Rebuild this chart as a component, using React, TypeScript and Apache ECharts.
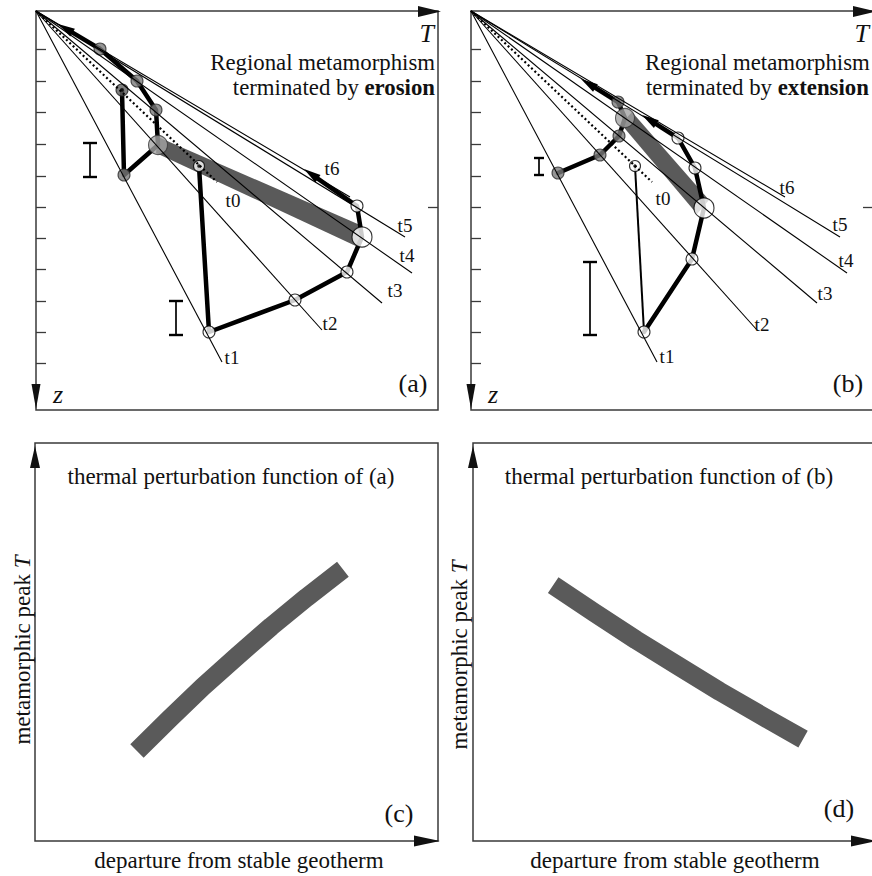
import React, { useEffect, useRef } from 'react';
import * as echarts from 'echarts';

// ---------------- DATA ----------------
// Panels (a) and (b): T to the right, depth z downwards, origin = surface (T0, z0)
const geothermLabels = ['t1', 't2', 't3', 't4', 't5', 't6'];
const geothermEndT = [186, 286, 346, 376, 369, 314];
const geothermEndZ = [351, 319, 292, 262, 226, 186];
const stableGeothermEnd = [181, 171]; // dotted t0 geotherm
const depthTicks = [38, 70, 101, 133, 165, 196, 227, 258, 290, 321, 352];
const rightTicks = [196];

// (a) terminated by erosion
const aShallowT = [86, 88, 122, 120, 101, 64];
const aShallowZ = [79, 164, 134, 99, 70, 38];
const aShallowArrow = [22, 13];
const aShallowPeak = 2;
const aDeepT = [163, 173, 259, 311, 326, 321];
const aDeepZ = [155, 321, 289, 261, 226, 195];
const aDeepArrow = [268, 158];
const aDeepPeak = 4;
const aBandT = [122, 324, 322, 120];
const aBandZ = [126, 214, 236, 142];
const aErrorT = [54, 140];
const aErrorTop = [132, 290];
const aErrorBottom = [166, 324];

// (b) terminated by extension
const bShallowT = [87, 129, 148, 154, 147];
const bShallowZ = [162, 144, 125, 107, 91];
const bShallowArrow = [110, 68];
const bShallowPeak = 3;
const bDeepT = [164, 173, 221, 233, 224, 207];
const bDeepZ = [155, 321, 248, 197, 157, 127];
const bDeepArrow = [171, 104];
const bDeepPeak = 3;
const bBandT = [150, 161, 238, 226];
const bBandZ = [113, 101, 189, 203];
const bErrorT = [68, 119];
const bErrorTop = [147, 251];
const bErrorBottom = [164, 324];

// (c), (d): thermal perturbation functions (departure 0-100, peak T 0-100)
const cDeparture = [25.3, 33.4, 41.6, 50.1, 58.6, 67.4, 76.4];
const cPeakT = [22.6, 30.7, 38.7, 46.4, 53.9, 61.2, 68.3];
const dDeparture = [19.9, 30.2, 40.5, 50.9, 61.2, 71.6, 81.9];
const dPeakT = [64.3, 57.3, 50.5, 44.0, 37.6, 31.5, 25.6];

// ---------------- STYLE / LAYOUT ----------------
const FONT = 'Liberation Serif';
const BAND = '#5a5a5a';
const FRAME = '#3a3a3a';

const zip = (xs: number[], ys: number[]) => xs.map((x, i) => [x, ys[i]]);

function textEl(text: string, x: number, y: number, size: number, o: any = {}) {
  const align = o.align || 'center';
  return {
    type: 'text',
    x,
    y,
    rotation: o.rotation || 0,
    z: 100,
    silent: true,
    style: {
      text,
      x: 0,
      y: 0,
      fill: '#111',
      fontSize: size,
      fontFamily: FONT,
      fontStyle: o.italic ? 'italic' : 'normal',
      fontWeight: 'normal',
      align,
      textAlign: align,
      verticalAlign: 'middle',
      textVerticalAlign: 'middle',
      rich: o.rich,
    },
  };
}

const boldRich = (size: number) => ({
  b: { fontSize: size, fontFamily: FONT, fontWeight: 'bold', fill: '#111' },
});
const italicRich = (size: number) => ({
  i: { fontSize: size, fontFamily: FONT, fontStyle: 'italic', fill: '#111' },
});

function tri(points: number[][]) {
  return { type: 'polygon', z: 100, silent: true, shape: { points }, style: { fill: '#111' } };
}

function circleItem(t: number, z: number, kind: string) {
  const styles: any = {
    gray: { size: 12, color: '#7b7b7b', border: '#2a2a2a' },
    grayPeak: { size: 19, color: '#a2a2a2', border: '#3a3a3a' },
    grayStart: { size: 12, color: '#5e5e5e', border: '#222' },
    white: { size: 12, color: '#fff', border: '#000' },
    whitePeak: { size: 20, color: '#fff', border: '#000' },
    whiteStart: { size: 11, color: '#fff', border: '#000' },
  };
  const s = styles[kind];
  return {
    value: [t, z],
    symbolSize: s.size,
    itemStyle: { color: s.color, borderColor: s.border, borderWidth: 1.1 },
  };
}

function topPanelSeries(xi: number, yi: number, p: any) {
  const series: any[] = [];
  // peak band
  series.push({
    type: 'custom',
    xAxisIndex: xi,
    yAxisIndex: yi,
    z: 1,
    silent: true,
    data: [[p.bandT[0], p.bandZ[0]]],
    renderItem: (_params: any, api: any) => ({
      type: 'polygon',
      shape: { points: p.bandT.map((t: number, i: number) => api.coord([t, p.bandZ[i]])) },
      style: { fill: BAND },
    }),
  });
  // error bars
  series.push({
    type: 'custom',
    xAxisIndex: xi,
    yAxisIndex: yi,
    z: 2,
    silent: true,
    data: p.errT.map((t: number, i: number) => [t, p.errTop[i], p.errBottom[i]]),
    renderItem: (params: any, api: any) => {
      const t = api.value(0);
      const a = api.coord([t, api.value(1)]);
      const b = api.coord([t, api.value(2)]);
      const hw = p.capHalf[params.dataIndex];
      const st = { stroke: '#000', lineWidth: 1.7 };
      const cap = { stroke: '#000', lineWidth: 2.4 };
      return {
        type: 'group',
        children: [
          { type: 'line', shape: { x1: a[0], y1: a[1], x2: b[0], y2: b[1] }, style: st },
          { type: 'line', shape: { x1: a[0] - hw, y1: a[1], x2: a[0] + hw, y2: a[1] }, style: cap },
          { type: 'line', shape: { x1: b[0] - hw, y1: b[1], x2: b[0] + hw, y2: b[1] }, style: cap },
        ],
      };
    },
  });
  // thick P-T-t paths
  const thick = { color: '#000', width: 4.5, join: 'round', cap: 'round' };
  series.push({
    type: 'line',
    xAxisIndex: xi,
    yAxisIndex: yi,
    z: 3,
    silent: true,
    symbol: 'none',
    data: zip(p.shallowT, p.shallowZ),
    lineStyle: thick,
  });
  if (p.deepFirstThin) {
    series.push({
      type: 'line',
      xAxisIndex: xi,
      yAxisIndex: yi,
      z: 3,
      silent: true,
      symbol: 'none',
      data: zip(p.deepT.slice(0, 2), p.deepZ.slice(0, 2)),
      lineStyle: { color: '#000', width: 2 },
    });
    series.push({
      type: 'line',
      xAxisIndex: xi,
      yAxisIndex: yi,
      z: 3,
      silent: true,
      symbol: 'none',
      data: zip(p.deepT.slice(1), p.deepZ.slice(1)),
      lineStyle: thick,
    });
  } else {
    series.push({
      type: 'line',
      xAxisIndex: xi,
      yAxisIndex: yi,
      z: 3,
      silent: true,
      symbol: 'none',
      data: zip(p.deepT, p.deepZ),
      lineStyle: thick,
    });
  }
  // arrows at path ends
  const lastS = p.shallowT.length - 1;
  const lastD = p.deepT.length - 1;
  series.push({
    type: 'custom',
    xAxisIndex: xi,
    yAxisIndex: yi,
    z: 3,
    silent: true,
    data: [
      [p.shallowT[lastS], p.shallowZ[lastS], p.shallowArrow[0], p.shallowArrow[1]],
      [p.deepT[lastD], p.deepZ[lastD], p.deepArrow[0], p.deepArrow[1]],
    ],
    renderItem: (_params: any, api: any) => {
      const a = api.coord([api.value(0), api.value(1)]);
      const b = api.coord([api.value(2), api.value(3)]);
      const dx = b[0] - a[0];
      const dy = b[1] - a[1];
      const L = Math.hypot(dx, dy) || 1;
      const ux = dx / L;
      const uy = dy / L;
      const len = 17;
      const hw = 4.5;
      const base = [b[0] - ux * len, b[1] - uy * len];
      return {
        type: 'group',
        children: [
          {
            type: 'line',
            shape: { x1: a[0], y1: a[1], x2: base[0] + ux * 2, y2: base[1] + uy * 2 },
            style: { stroke: '#000', lineWidth: 4.5 },
          },
          {
            type: 'polygon',
            shape: {
              points: [
                b,
                [base[0] - uy * hw, base[1] + ux * hw],
                [base[0] + uy * hw, base[1] - ux * hw],
              ],
            },
            style: { fill: '#000' },
          },
        ],
      };
    },
  });
  // circles
  const circles: any[] = [];
  p.shallowT.forEach((t: number, i: number) => {
    let kind = 'gray';
    if (i === p.shallowPeak) kind = 'grayPeak';
    else if (i === 0 && p.shallowStartsAtT0) kind = 'grayStart';
    circles.push(circleItem(t, p.shallowZ[i], kind));
  });
  p.deepT.forEach((t: number, i: number) => {
    let kind = 'white';
    if (i === p.deepPeak) kind = 'whitePeak';
    else if (i === 0) kind = 'whiteStart';
    circles.push(circleItem(t, p.deepZ[i], kind));
  });
  series.push({
    type: 'scatter',
    xAxisIndex: xi,
    yAxisIndex: yi,
    z: 4,
    silent: true,
    symbol: 'circle',
    data: circles,
  });
  const dots: any[] = [[p.deepT[0], p.deepZ[0]]];
  if (p.shallowStartsAtT0) dots.push([p.shallowT[0], p.shallowZ[0]]);
  series.push({
    type: 'scatter',
    xAxisIndex: xi,
    yAxisIndex: yi,
    z: 6,
    silent: true,
    symbol: 'circle',
    symbolSize: 3.5,
    itemStyle: { color: '#000' },
    data: dots,
  });
  // geotherms
  geothermLabels.forEach((_n, i) => {
    series.push({
      type: 'line',
      xAxisIndex: xi,
      yAxisIndex: yi,
      z: 5,
      silent: true,
      symbol: 'none',
      data: [
        [0, 0],
        [geothermEndT[i], geothermEndZ[i]],
      ],
      lineStyle: { color: '#000', width: 1.1 },
    });
  });
  series.push({
    type: 'line',
    xAxisIndex: xi,
    yAxisIndex: yi,
    z: 5,
    silent: true,
    symbol: 'none',
    data: [[0, 0], stableGeothermEnd],
    lineStyle: { color: '#000', width: 2.2, type: [2, 2.6] },
  });
  return series;
}

function perturbationSeries(xi: number, yi: number, xs: number[], ys: number[]) {
  return {
    type: 'line',
    xAxisIndex: xi,
    yAxisIndex: yi,
    z: 2,
    silent: true,
    symbol: 'none',
    smooth: false,
    data: zip(xs, ys),
    lineStyle: { color: BAND, width: 19, cap: 'butt', join: 'round' },
  };
}

const labelsA: any = { t0: [233, 200], t1: [232, 357], t2: [330, 323], t3: [395, 290], t4: [407, 255], t5: [405, 225], t6: [332, 168] };
const labelsB: any = { t0: [663, 198], t1: [667, 356], t2: [762, 324], t3: [825, 293], t4: [846, 260], t5: [840, 224], t6: [787, 187] };

function buildOption() {
  const gridBase = { show: true, borderColor: FRAME, borderWidth: 1.5, backgroundColor: 'transparent', containLabel: false, outerBoundsMode: 'none' };
  const grid = [
    { left: 36, top: 11, width: 402, height: 399 },
    { left: 471, top: 11, width: 402, height: 399 },
    { left: 35, top: 443, width: 403, height: 398 },
    { left: 473, top: 443, width: 403, height: 398 },
  ].map((g) => ({ ...gridBase, ...g }));

  const hidden = { show: false };
  const xAxis = [
    { gridIndex: 0, type: 'value', min: 0, max: 402, ...hidden },
    { gridIndex: 1, type: 'value', min: 0, max: 402, ...hidden },
    { gridIndex: 2, type: 'value', min: 0, max: 100, ...hidden },
    { gridIndex: 3, type: 'value', min: 0, max: 100, ...hidden },
  ];
  const depthAxis = (gi: number, pos: string, ticks: number[]) => ({
    gridIndex: gi,
    type: 'value',
    min: 0,
    max: 399,
    inverse: true,
    position: pos,
    axisLine: { show: false },
    axisTick: { show: true, inside: true, length: 10, customValues: ticks, lineStyle: { color: FRAME, width: 1.3 } },
    axisLabel: { show: false },
    splitLine: { show: false },
  });
  const yAxis = [
    depthAxis(0, 'left', depthTicks),
    depthAxis(1, 'left', depthTicks),
    depthAxis(0, 'right', rightTicks),
    depthAxis(1, 'right', rightTicks),
    { gridIndex: 2, type: 'value', min: 0, max: 100, ...hidden },
    { gridIndex: 3, type: 'value', min: 0, max: 100, ...hidden },
  ];

  const series = [
    ...topPanelSeries(0, 0, {
      shallowT: aShallowT, shallowZ: aShallowZ, shallowArrow: aShallowArrow, shallowPeak: aShallowPeak, shallowStartsAtT0: true,
      deepT: aDeepT, deepZ: aDeepZ, deepArrow: aDeepArrow, deepPeak: aDeepPeak, deepFirstThin: false,
      bandT: aBandT, bandZ: aBandZ,
      errT: aErrorT, errTop: aErrorTop, errBottom: aErrorBottom, capHalf: [7, 7],
    }),
    ...topPanelSeries(1, 1, {
      shallowT: bShallowT, shallowZ: bShallowZ, shallowArrow: bShallowArrow, shallowPeak: bShallowPeak, shallowStartsAtT0: false,
      deepT: bDeepT, deepZ: bDeepZ, deepArrow: bDeepArrow, deepPeak: bDeepPeak, deepFirstThin: true,
      bandT: bBandT, bandZ: bBandZ,
      errT: bErrorT, errTop: bErrorTop, errBottom: bErrorBottom, capHalf: [5, 7],
    }),
    perturbationSeries(2, 4, cDeparture, cPeakT),
    perturbationSeries(3, 5, dDeparture, dPeakT),
  ];

  const g: any[] = [];
  // axis arrowheads
  g.push(tri([[441, 11.5], [418, 6], [418, 17]]));
  g.push(tri([[876, 11.5], [853, 6], [853, 17]]));
  g.push(tri([[36, 409], [31.5, 384], [40.5, 384]]));
  g.push(tri([[471, 409], [466.5, 384], [475.5, 384]]));
  g.push(tri([[35, 446], [30, 468], [40, 468]]));
  g.push(tri([[473, 446], [468, 468], [478, 468]]));
  g.push(tri([[440, 841], [414, 835.5], [414, 846.5]]));
  g.push(tri([[876, 841], [851, 835.5], [851, 846.5]]));

  // texts (a)
  g.push(textEl('T', 434, 33, 26, { italic: true, align: 'right' }));
  g.push(textEl('Regional metamorphism', 435, 62, 22.8, { align: 'right' }));
  g.push(textEl('terminated by {b|erosion}', 435, 87, 22.8, { align: 'right', rich: boldRich(22.8) }));
  g.push(textEl('z', 58, 394, 26, { italic: true }));
  g.push(textEl('(a)', 413, 383, 26));
  // texts (b)
  g.push(textEl('T', 869, 33, 26, { italic: true, align: 'right' }));
  g.push(textEl('Regional metamorphism', 645, 62, 22.8, { align: 'left' }));
  g.push(textEl('terminated by {b|extension}', 646, 87, 22.8, { align: 'left', rich: boldRich(22.8) }));
  g.push(textEl('z', 493, 394, 26, { italic: true }));
  g.push(textEl('(b)', 848, 383, 26));
  // geotherm labels
  ['t0', ...geothermLabels].forEach((n) => {
    g.push(textEl(n, labelsA[n][0], labelsA[n][1], 19));
    g.push(textEl(n, labelsB[n][0], labelsB[n][1], 19));
  });
  // texts (c), (d)
  g.push(textEl('thermal perturbation function of (a)', 231, 476, 23));
  g.push(textEl('thermal perturbation function of (b)', 669, 476, 23));
  g.push(textEl('metamorphic peak {i|T}', 22, 650, 23, { rotation: Math.PI / 2, rich: italicRich(23) }));
  g.push(textEl('metamorphic peak {i|T}', 459, 655, 23, { rotation: Math.PI / 2, rich: italicRich(23) }));
  g.push(textEl('departure from stable geotherm', 239, 860, 23));
  g.push(textEl('departure from stable geotherm', 675, 860, 23));
  g.push(textEl('(c)', 399, 813, 26));
  g.push(textEl('(d)', 839, 808, 26));

  return {
    animation: false,
    backgroundColor: '#ffffff',
    textStyle: { fontFamily: FONT },
    grid,
    xAxis,
    yAxis,
    series,
    graphic: { elements: g },
  };
}

export default function App() {
  const ref = useRef<HTMLDivElement>(null);
  useEffect(() => {
    if (!ref.current) return;
    const chart = echarts.init(ref.current, undefined, { renderer: 'svg' });
    chart.setOption(buildOption() as any);
    return () => chart.dispose();
  }, []);
  return (
    <div
      ref={ref}
      style={{ position: 'absolute', left: 0, top: 0, width: 872, height: 876, background: '#fff' }}
    />
  );
}
